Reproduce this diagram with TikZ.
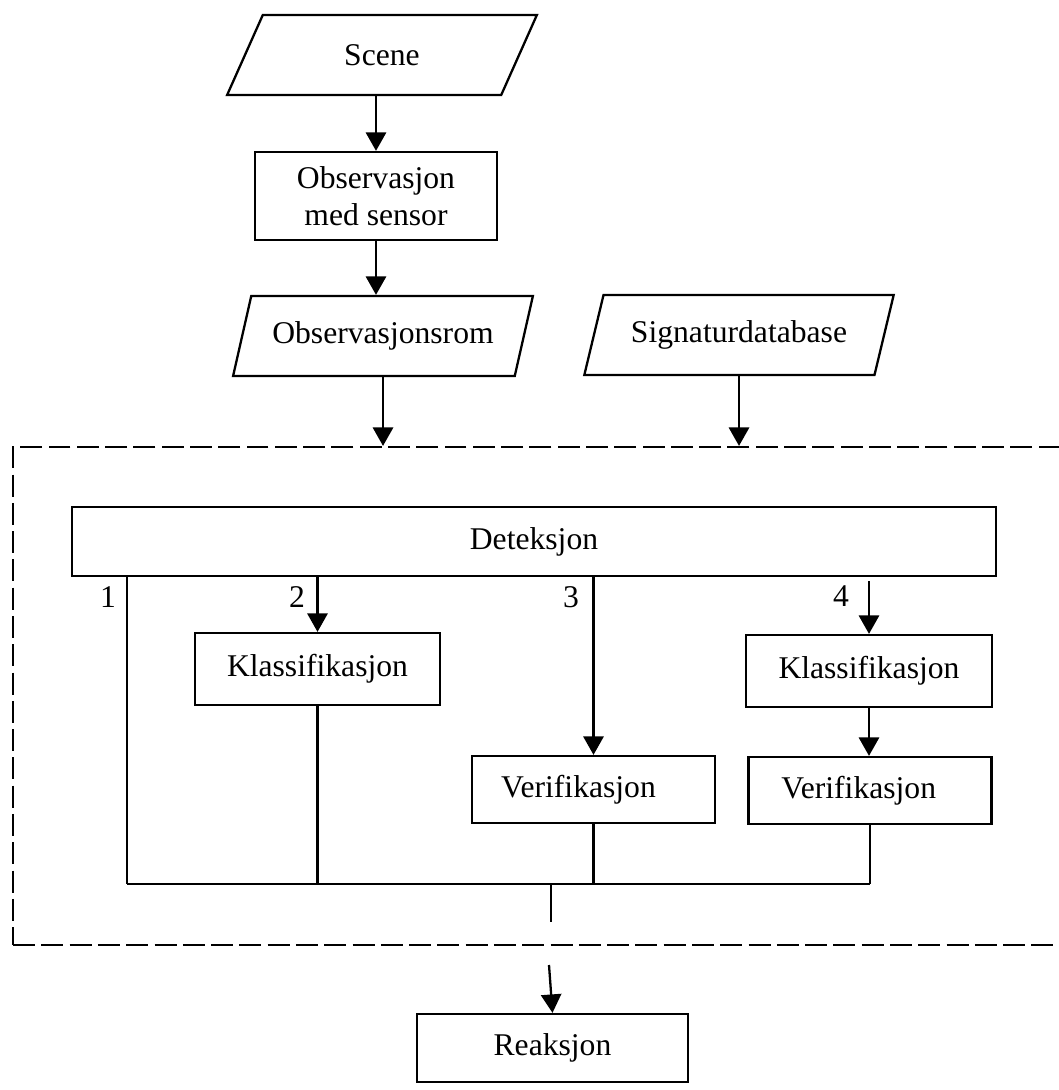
\documentclass[tikz,border=0pt]{standalone}
\usepackage{fontspec}
\setmainfont{Liberation Serif}
\usetikzlibrary{shapes.geometric,arrows.meta}

\tikzset{
  boks/.style={draw, line width=1.3pt, inner sep=0pt, align=center},
  para/.style={draw, line width=1.3pt, trapezium, trapezium left angle=62,
    trapezium right angle=118, trapezium stretches=true, inner sep=0pt,
    minimum width=6.2cm, minimum height=1.6cm},
  pil/.style={line width=1.3pt, -{Triangle[length=10.5pt,width=11.5pt]}},
  linje/.style={line width=1.3pt},
  ramme/.style={draw, line width=1.3pt, dash pattern=on 12.5pt off 3.6pt,
    minimum width=21.34cm, minimum height=9.96cm}
}

\begin{document}
\begin{tikzpicture}[x=0.02cm,y=-0.02cm,font=\fontsize{18}{21}\selectfont]
\useasboundingbox (0,0) rectangle (1059,1090);
% inngang
\node[para] (scene) at (382,55) {Scene};
\node[boks, minimum width=4.84cm, minimum height=1.76cm] (obs) at (376,196) {Observasjon\\med sensor};
\node[para, minimum width=6.0cm] (obsrom) at (383,336) {Observasjonsrom};
\node[para] (sig) at (739,335) {Signaturdatabase};
\draw[pil] (obs.north |- scene.south) -- (obs.north);
\draw[pil] (obs.south) -- (obs.south |- obsrom.north);
% stiplet ramme
\node[ramme] (ramme) at (546.5,696) {};
\draw[pil] (obsrom.south) -- (obsrom.south |- ramme.north);
\draw[pil] (sig.south) -- (sig.south |- ramme.north);
% deteksjon og grener
\node[boks, minimum width=18.48cm, minimum height=1.38cm] (det) at (534,541.5) {Deteksjon};
\node[boks, minimum width=4.9cm, minimum height=1.44cm] (k1) at (317.5,669) {Klassifikasjon};
\node[boks, minimum width=4.86cm, minimum height=1.34cm] (v1) at (593.5,789.5) {Verifikasjon\hspace*{0.6cm}};
\node[boks, minimum width=4.92cm, minimum height=1.44cm] (k2) at (869,671) {Klassifikasjon};
\node[boks, minimum width=4.86cm, minimum height=1.34cm] (v2) at (870,790.5) {Verifikasjon\hspace*{0.45cm}};
\node (n1) at (108,597) {1};
\node (n2) at (297,597) {2};
\node (n3) at (571,597) {3};
\node (n4) at (841,596) {4};
\coordinate (b1) at (127,884);
\coordinate (ut) at (551,884);
\coordinate (utend) at (551,922);
\coordinate (inn) at (549,965);
\draw[linje] (b1 |- det.south) -- (b1);
\draw[pil] (k1.north |- det.south) -- (k1.north);
\draw[pil] (v1.north |- det.south) -- (v1.north);
\draw[pil, shorten <=0.08cm] (k2.north |- det.south) -- (k2.north);
\draw[pil] (k2.south) -- (k2.south |- v2.north);
\draw[linje] (k1.south) -- (k1.south |- b1);
\draw[linje] (v1.south) -- (v1.south |- b1);
\draw[linje] (v2.south) -- (v2.south |- b1);
\draw[linje] (b1) -- (v2.south |- b1);
\draw[linje] (ut) -- (utend);
% reaksjon
\node[boks, minimum width=5.42cm, minimum height=1.36cm] (reak) at (552.5,1048) {Reaksjon};
\draw[pil] (inn) -- (reak.north);
\end{tikzpicture}
\end{document}
